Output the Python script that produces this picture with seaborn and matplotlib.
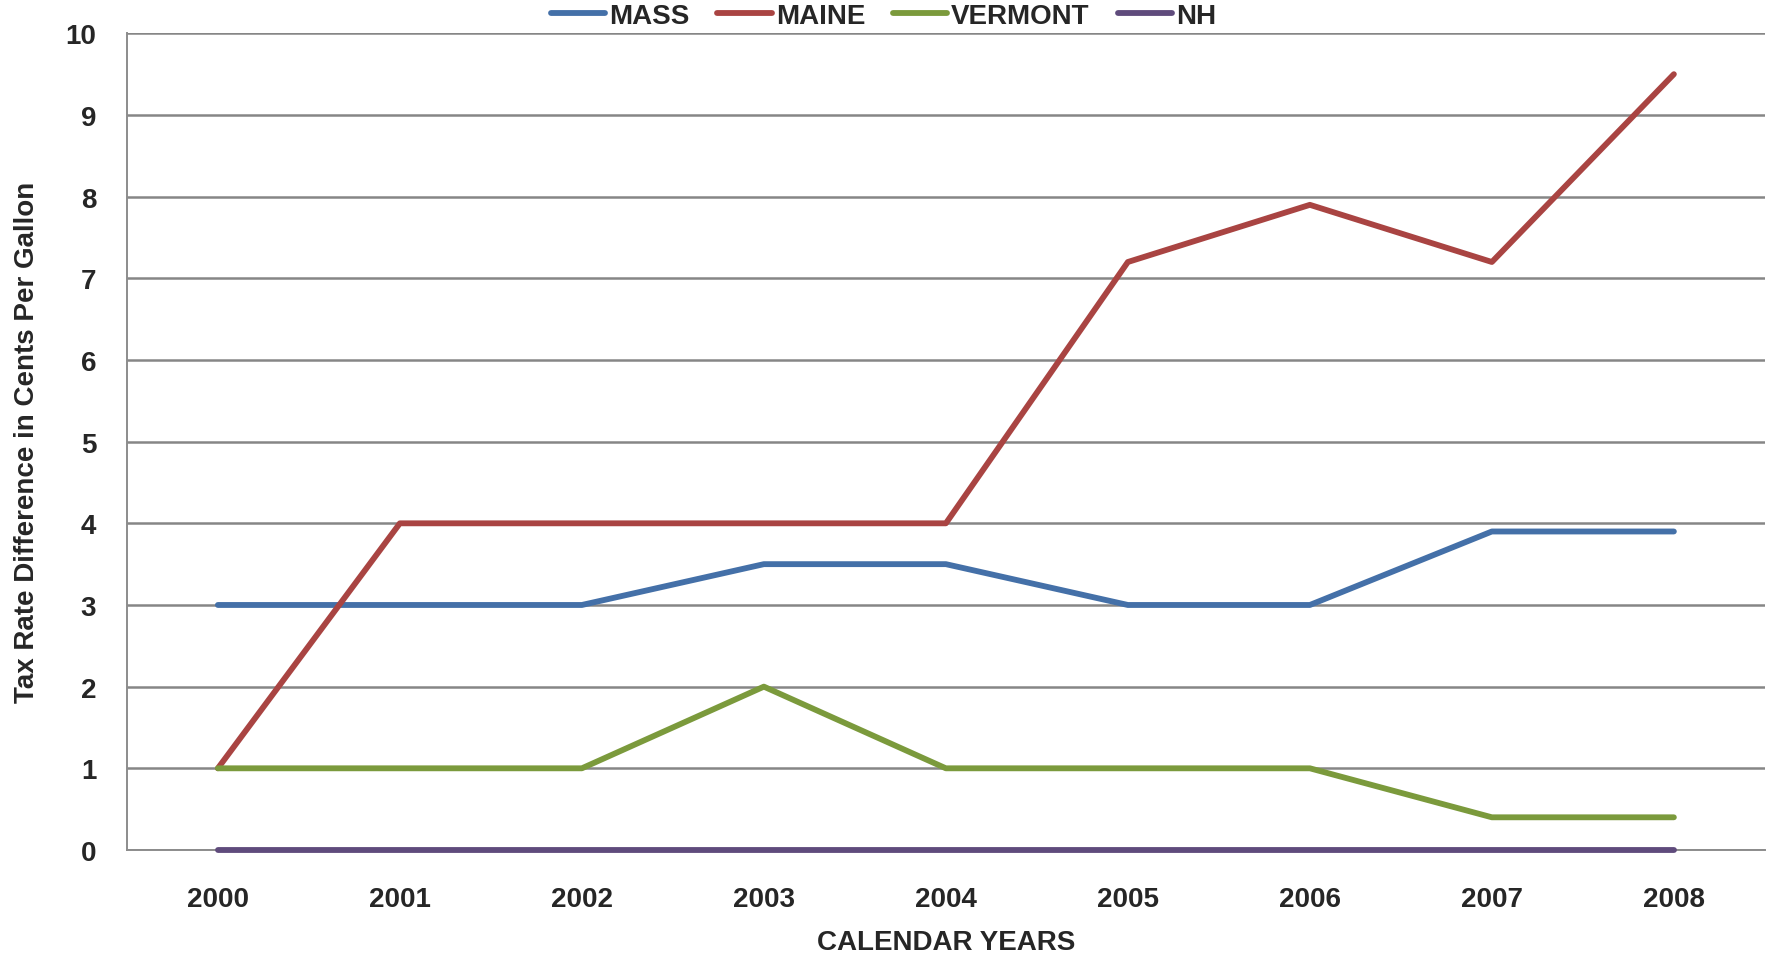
import numpy as np
import pandas as pd
import seaborn as sns
import matplotlib
matplotlib.use("Agg")
import matplotlib.pyplot as plt
from matplotlib.ticker import FixedLocator

years = [2000, 2001, 2002, 2003, 2004, 2005, 2006, 2007, 2008]
mass = [3.0, 3.0, 3.0, 3.5, 3.5, 3.0, 3.0, 3.9, 3.9]
maine = [1.0, 4.0, 4.0, 4.0, 4.0, 7.2, 7.9, 7.2, 9.5]
vermont = [1.0, 1.0, 1.0, 2.0, 1.0, 1.0, 1.0, 0.4, 0.4]
nh = [0, 0, 0, 0, 0, 0, 0, 0, 0]
series_names = ["MASS", "MAINE", "VERMONT", "NH"]
colors = ["#4470A8", "#A94442", "#7B9A3C", "#5F4B7C"]
y_ticks = list(range(0, 11))

df = pd.concat([
    pd.DataFrame({"year": years, "value": vals, "state": name})
    for name, vals in zip(series_names, [mass, maine, vermont, nh])
])

sns.set_theme(style="white")
plt.rcParams["font.family"] = ["Liberation Sans", "DejaVu Sans"]
plt.rcParams["font.weight"] = "bold"
FS = 20

fig = plt.figure(figsize=(17.67, 9.54), dpi=100)
ax = fig.add_axes([0.0718, 0.108, 0.927, 0.856])

sns.lineplot(data=df, x="year", y="value", hue="state", hue_order=series_names,
             palette=colors, linewidth=4.2, ax=ax, legend=True, solid_capstyle="round",
             clip_on=False, zorder=5)

ax.set_xlim(years[0] - 0.5, years[-1] + 0.5)
ax.set_ylim(0, 10)
ax.set_yticks(y_ticks)
ax.set_xticks(years)
ax.set_xticklabels([str(y) for y in years])
ax.xaxis.set_minor_locator(FixedLocator([y - 0.5 for y in years] + [years[-1] + 0.5]))
ax.tick_params(axis="x", which="major", length=0, pad=26, labelsize=FS)
ax.tick_params(axis="x", which="minor", length=13, width=1.4, color="#8C8C8C", direction="out")
ax.tick_params(axis="y", length=0, pad=22, labelsize=FS)
for lab in ax.get_xticklabels() + ax.get_yticklabels():
    lab.set_fontweight("bold")

ax.grid(axis="y", color="#868686", linewidth=1.8)
ax.set_axisbelow(True)
for s in ["top", "right"]:
    ax.spines[s].set_visible(False)
for s in ["left", "bottom"]:
    ax.spines[s].set_color("#8C8C8C")
    ax.spines[s].set_linewidth(1.4)
    ax.spines[s].set_zorder(1)

ax.set_xlabel("CALENDAR YEARS", fontsize=FS, fontweight="bold", labelpad=12)
ax.set_ylabel("Tax Rate Difference in Cents Per Gallon", fontsize=FS, fontweight="bold", labelpad=18)

handles, labels = ax.get_legend_handles_labels()
ax.get_legend().remove()
for h in handles:
    h.set_linewidth(4.2)
fig.legend(handles, labels, loc="center", bbox_to_anchor=(0.5, 0.982), ncol=4,
           frameon=False, handlelength=1.95, handletextpad=0.15,
           columnspacing=1.0, prop={"weight": "bold", "size": FS}, borderpad=0.1)

fig.savefig("out.png", dpi=100)
